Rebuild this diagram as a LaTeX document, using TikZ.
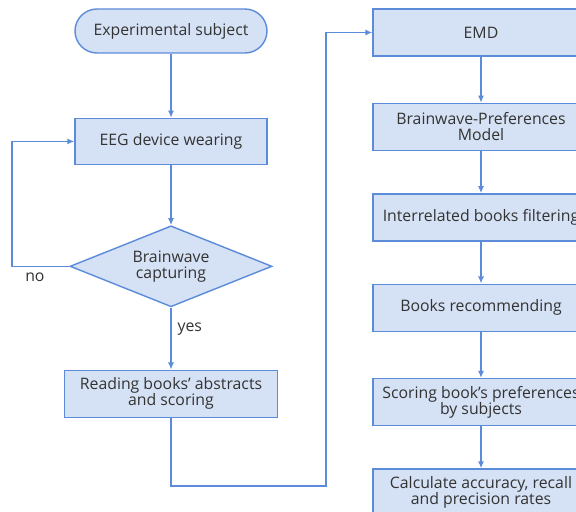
\documentclass[tikz,border=0pt]{standalone}
\usepackage{fontspec}
\setmainfont{Open Sans}
\usetikzlibrary{positioning,arrows.meta,shapes.geometric}
\definecolor{boxfill}{HTML}{D5E1F4}
\definecolor{boxline}{HTML}{5B8BD9}
\definecolor{boxtext}{HTML}{333333}

\begin{document}
\begin{tikzpicture}[
    node distance=1.24cm,
    flow box/.style={
        rectangle,
        draw=boxline,
        fill=boxfill,
        line width=0.8pt,
        text=boxtext,
        font=\fontsize{9}{9.2}\selectfont,
        align=center,
        minimum width=3.84cm,
        minimum height=0.92cm,
        inner sep=2pt
    },
    terminal box/.style={flow box, rounded corners=0.44cm, minimum height=0.88cm},
    result box/.style={flow box, minimum width=4.32cm, minimum height=0.94cm},
    decision/.style={
        diamond,
        aspect=2.5,
        draw=boxline,
        fill=boxfill,
        line width=0.8pt,
        text=boxtext,
        font=\fontsize{9}{9.2}\selectfont,
        align=center,
        minimum width=4.04cm,
        minimum height=1.62cm,
        inner sep=0pt
    },
    label text/.style={text=boxtext, font=\fontsize{9}{9.2}\selectfont},
    arrow/.style={-{Latex[length=4pt,width=3.5pt]}, draw=boxline, line width=0.8pt}
]
\useasboundingbox (0,0) rectangle (11.52,-10.22);
\clip (0,0) rectangle (11.52,-10.22);

\node[terminal box] (subject) at (3.42,-0.62) {Experimental subject};
\node[flow box, below=1.28cm of subject] (eeg) {EEG device wearing};
\node[decision, below=1.2cm of eeg] (capture) {Brainwave\\capturing};
\node[flow box, minimum width=4.26cm, minimum height=0.94cm, below=of capture] (reading) {Reading books' abstracts\\and scoring};

\node[result box] (emd) at (9.62,-0.65) {EMD};
\node[result box, below=0.92cm of emd] (model) {Brainwave-Preferences\\Model};
\node[result box, below=0.84cm of model] (filter) {Interrelated books filtering};
\node[result box, below=0.84cm of filter] (recommend) {Books recommending};
\node[result box, below=0.92cm of recommend] (scoring) {Scoring book's preferences\\by subjects};
\node[result box, below=0.84cm of scoring] (metrics) {Calculate accuracy, recall\\and precision rates};

\coordinate (back) at (0.24,-2.8);
\coordinate (turn) at (6.52,-9.72);

\draw[arrow] (subject) -- (eeg);
\draw[arrow] (eeg) -- (capture);
\draw[arrow] (capture) -- node[label text, right, pos=0.35] {yes} (reading);
\draw[arrow] (capture.west) -- node[label text, below, pos=0.6] {no} (capture.west -| back) |- (eeg.west);
\draw[arrow] (reading.south) |- (turn) |- (emd.west);

\draw[arrow] (emd) -- (model);
\draw[arrow] (model) -- (filter);
\draw[arrow] (filter) -- (recommend);
\draw[arrow] (recommend) -- (scoring);
\draw[arrow] (scoring) -- (metrics);

\end{tikzpicture}
\end{document}
